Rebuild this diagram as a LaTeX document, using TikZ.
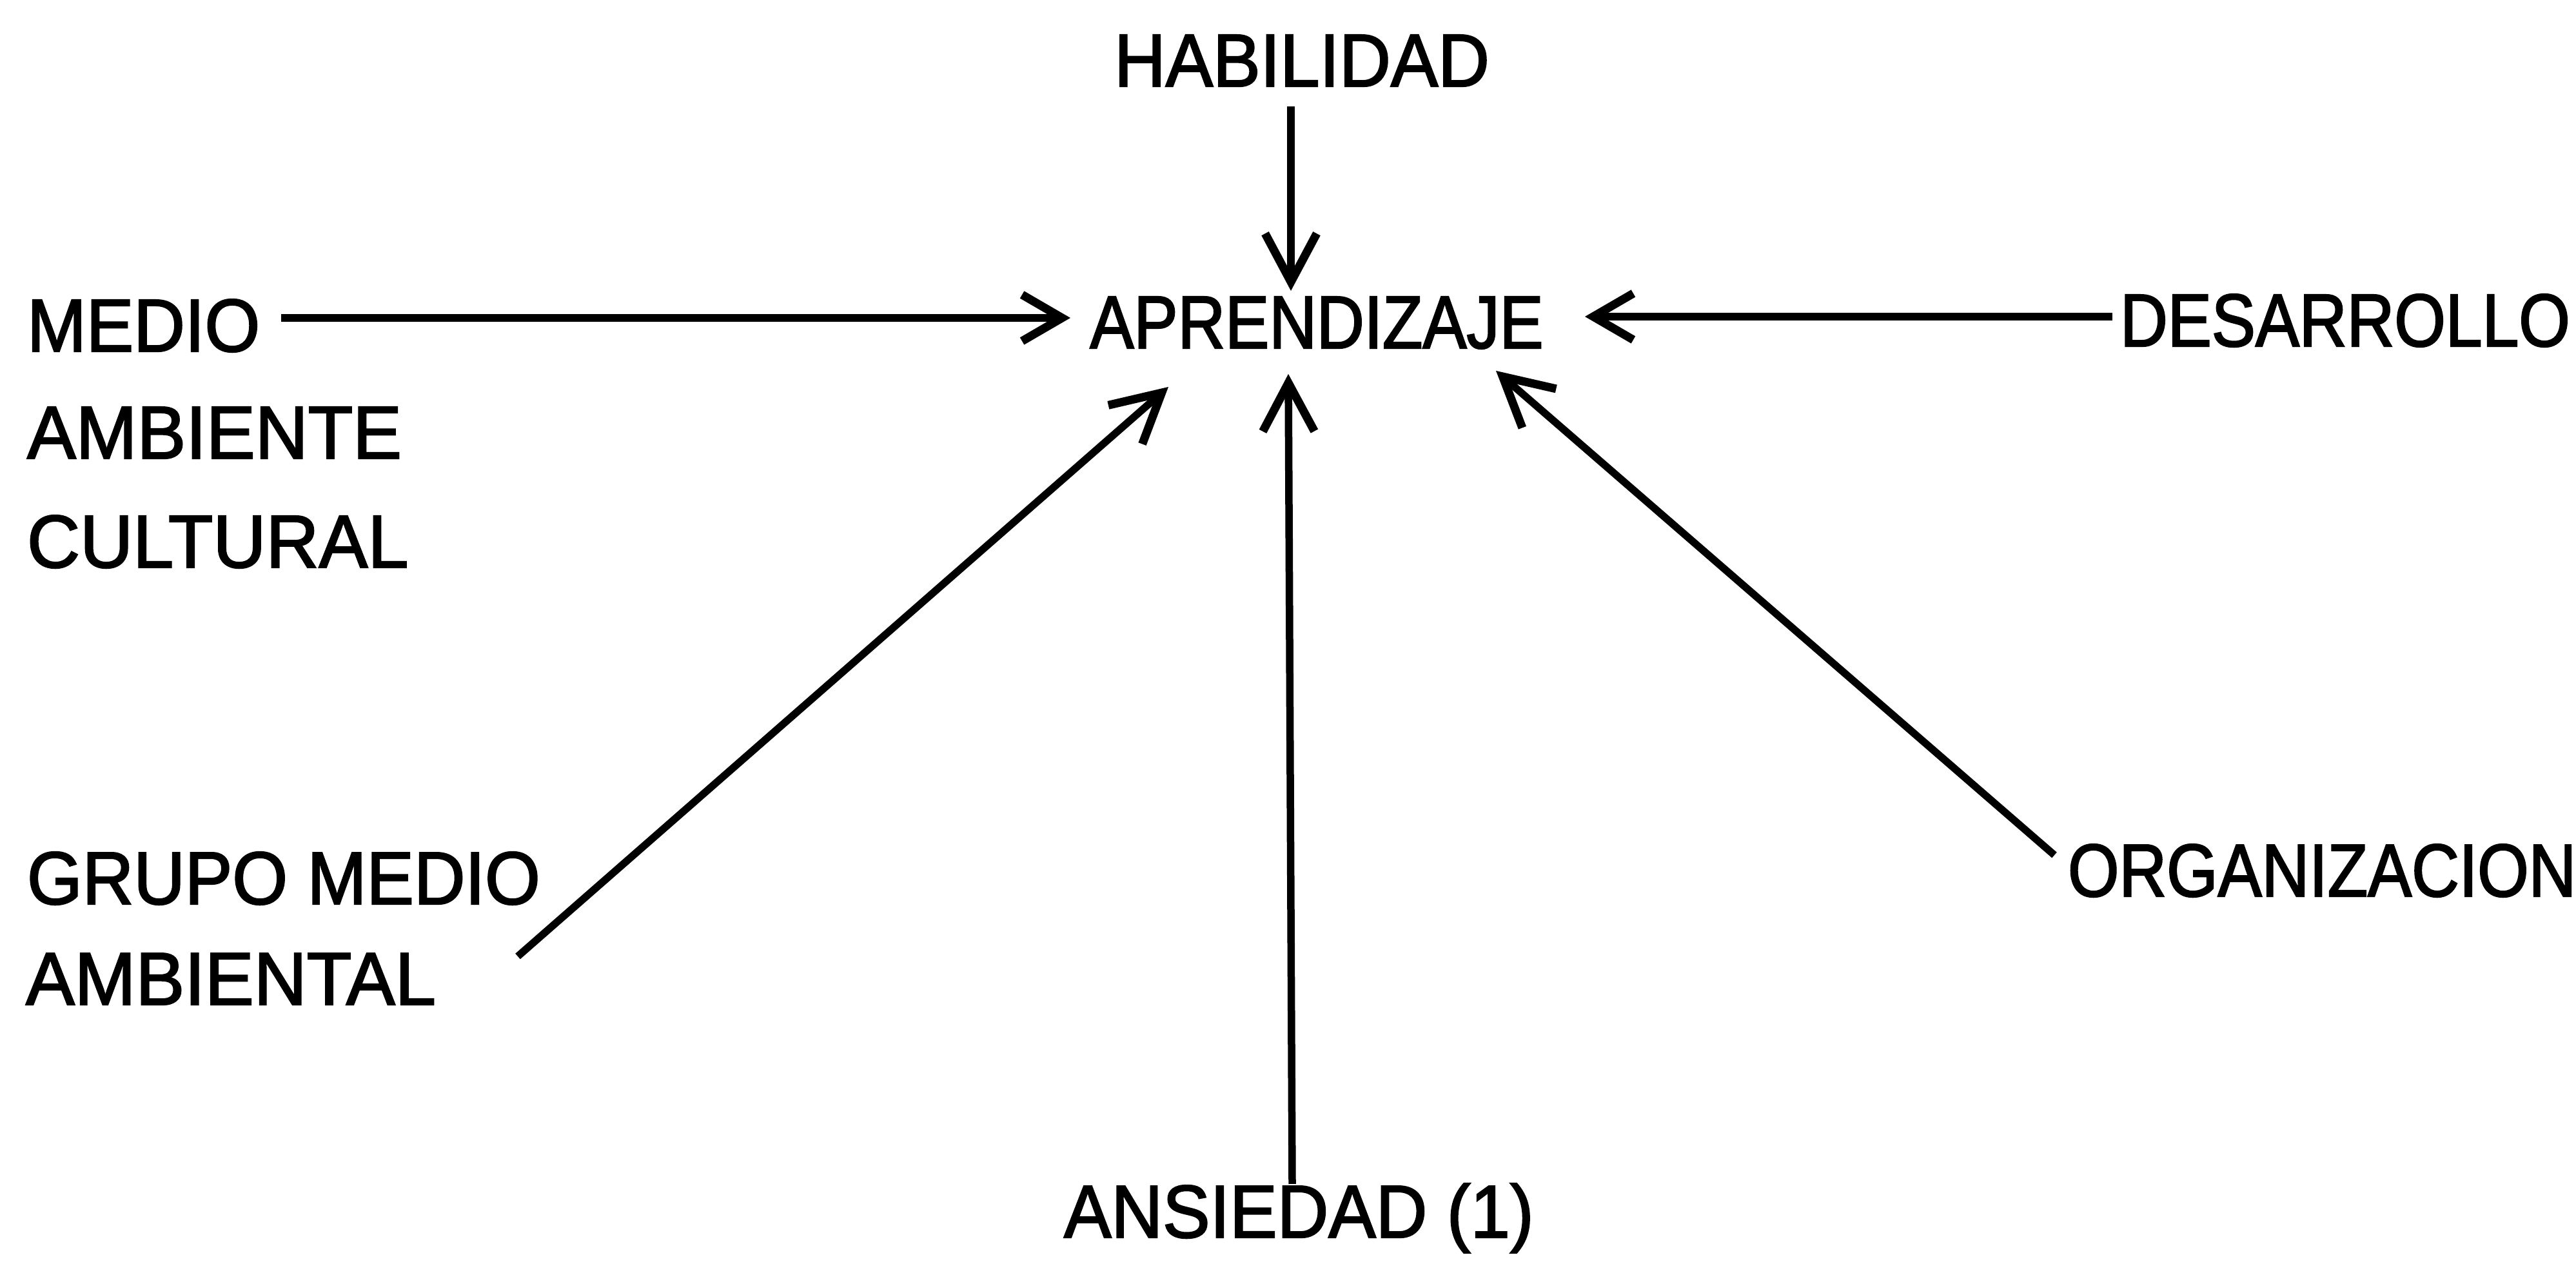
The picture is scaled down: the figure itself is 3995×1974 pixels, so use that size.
\documentclass[tikz,border=0pt]{standalone}
\usepackage{fontspec}
\setmainfont[FakeStretch=0.88,FakeBold=2]{Liberation Sans}
\newfontfamily\fontwa[FakeStretch=0.95,FakeBold=2]{Liberation Sans}
\newfontfamily\fontwb[FakeStretch=0.98,FakeBold=2]{Liberation Sans}
\usetikzlibrary{arrows.meta,calc}
\tikzset{
  lbl/.style={inner sep=0pt, outer sep=0pt, font=\fontsize{11.6}{14}\selectfont},
  lbla/.style={lbl, font=\fontsize{11.6}{14}\fontwa},
  lblb/.style={lbl, font=\fontsize{11.6}{14}\fontwb},
  conn/.style={line width=1.15pt, -{Straight Barb[length=7.5pt,width=8pt,line width=1.3pt]}},
  connsm/.style={line width=1.15pt, -{Straight Barb[length=6.2pt,width=7.2pt,line width=1.3pt]}}
}
\begin{document}
\begin{tikzpicture}[x=0.1pt,y=-0.1pt]
\useasboundingbox[fill=white] (0,0) rectangle (3995,1974);
\node[lbla, anchor=base] (hab) at (2019,134) {HABILIDAD};
\node[lbl, anchor=base] (apr) at (2042,540) {APRENDIZAJE};
\node[lbla, anchor=base west] (medio) at (42,545) {MEDIO};
\node[lblb, anchor=base west] (amb) at (42,711) {AMBIENTE};
\node[lblb, anchor=base west] (cult) at (42,880) {CULTURAL};
\node[lbl, anchor=base west] (des) at (3288,537) {DESARROLLO};
\node[lbl, anchor=base west] (org) at (3207,1390) {ORGANIZACION};
\node[lbla, anchor=base west] (grupo) at (42,1402) {GRUPO MEDIO};
\node[lblb, anchor=base west] (ambtal) at (40,1558) {AMBIENTAL};
\node[lbla, anchor=base west] (ans) at (1650,1919) {ANSIEDAD (1)};
% connectors
\draw[conn] ($(hab.base)+(-17,31)$) -- ($(apr.base)+(-40,-89)$);
\draw[connsm] ($(medio.base west)+(394,-52)$) -- ($(apr.base)+(-382,-47)$);
\draw[connsm] ($(des.base west)+(-12,-46)$) -- ($(apr.base)+(416,-49)$);
\draw[conn] ($(org.base west)+(-21,-64)$) -- ($(apr.base)+(278,35)$);
\draw[conn] ($(ans.base west)+(354,-83)$) -- ($(apr.base)+(-44,40)$);
\draw[conn] ($(grupo.base west)+(761,81)$) -- ($(apr.base)+(-230,60)$);
\end{tikzpicture}
\end{document}
